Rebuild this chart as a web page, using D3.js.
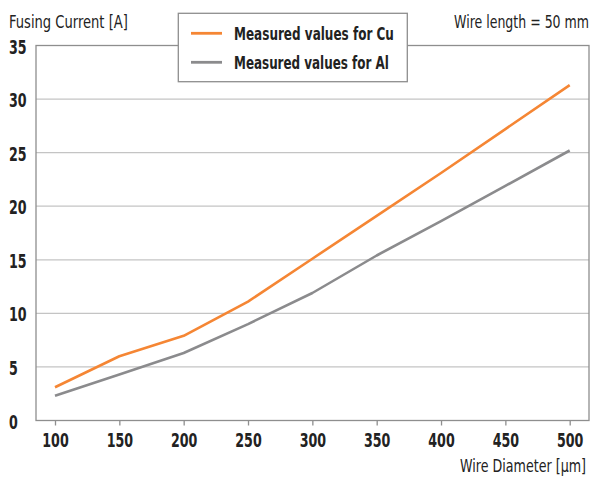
<!DOCTYPE html>
<html><head><meta charset="utf-8">
<script src="https://cdn.jsdelivr.net/npm/d3@7/dist/d3.min.js"></script>
<style>
body{margin:0;background:#fff;}
svg text{font-family:"DejaVu Sans Condensed","Liberation Sans Narrow",sans-serif;fill:#222;}
</style></head>
<body><svg id="c" width="595" height="480"></svg>
<script>
const diameters = [100, 150, 200, 250, 300, 350, 400, 450, 500];
const cuValues = [3.1, 6.0, 7.9, 11.1, 15.1, 19.1, 23.1, 27.2, 31.3];
const alValues = [2.3, 4.3, 6.3, 9.0, 11.9, 15.4, 18.6, 21.9, 25.2];
const yTicks = [0, 5, 10, 15, 20, 25, 30, 35];
const seriesNames = ["Measured values for Cu", "Measured values for Al"];
const colors = ["#f58634", "#8b8b8d"];

const svg = d3.select("#c");
const pL = 36, pR = 589, pT = 45.5, pB = 420.5;
const x = d3.scaleLinear().domain([100, 500]).range([55, 569.7]);
const y = d3.scaleLinear().domain([0, 35]).range([pB, pT]);

function condense(sel, f) {
  sel.each(function () {
    const w = this.getComputedTextLength();
    d3.select(this).attr("textLength", w * f).attr("lengthAdjust", "spacingAndGlyphs");
  });
}

// gridlines
svg.append("g").selectAll("line").data(yTicks.filter(d => d > 0 && d < 35)).join("line")
  .attr("x1", pL).attr("x2", pR).attr("y1", d => y(d)).attr("y2", d => y(d))
  .attr("stroke", "#c4c4c4").attr("stroke-width", 1.3);

// frame
svg.append("rect").attr("x", pL).attr("y", pT).attr("width", pR - pL).attr("height", pB - pT)
  .attr("fill", "none").attr("stroke", "#8e8e8e").attr("stroke-width", 1.3);

// x axis
const xAxis = d3.axisBottom(x).tickValues(diameters).tickSize(5).tickPadding(9).tickFormat(d3.format("d"));
const gx = svg.append("g").attr("transform", `translate(0,${pB})`).call(xAxis);
gx.select(".domain").remove();
gx.selectAll(".tick line").attr("stroke", "#8e8e8e").attr("stroke-width", 1.3);
gx.selectAll(".tick text").attr("font-size", 19).attr("font-weight", "bold").attr("fill", "#222")
  .attr("font-family", "DejaVu Sans Condensed, sans-serif").attr("dy", "0.68em");
condense(gx.selectAll(".tick text"), 0.74);

// y axis labels (left aligned)
const yAxis = d3.axisLeft(y).tickValues(yTicks).tickSize(0).tickPadding(0);
const gy = svg.append("g").attr("transform", `translate(${pL},0)`).call(yAxis);
gy.select(".domain").remove();
gy.selectAll(".tick text").attr("x", 9 - pL).attr("text-anchor", "start").attr("dy", "0.4em")
  .attr("font-size", 19).attr("font-weight", "bold").attr("fill", "#222")
  .attr("font-family", "DejaVu Sans Condensed, sans-serif");
condense(gy.selectAll(".tick text"), 0.74);

// lines
const line = d3.line().x((d, i) => x(diameters[i])).y(d => y(d));
[cuValues, alValues].forEach((vals, k) => {
  svg.append("path").datum(vals).attr("d", line).attr("fill", "none")
    .attr("stroke", colors[k]).attr("stroke-width", 2.6).attr("stroke-linejoin", "round");
});

// titles (horizontally compressed via transform)
function label(xp, yp, txt, w, anchor, bold, size, parent) {
  const t = (parent || svg).append("text").attr("x", 0).attr("y", 0).attr("font-size", size)
    .attr("font-weight", bold ? "bold" : "normal").attr("text-anchor", anchor).text(txt);
  const nat = t.node().getComputedTextLength();
  t.attr("transform", `translate(${xp},${yp}) scale(${w / nat},1)`);
  return t;
}
label(9, 27.5, "Fusing Current [A]", 119, "start", false, 17.5);
label(589, 27.5, "Wire length = 50 mm", 135, "end", false, 17.5);
label(586, 472, "Wire Diameter [µm]", 126, "end", false, 17.5);

// legend
const lg = svg.append("g");
lg.append("rect").attr("x", 178.3).attr("y", 13.3).attr("width", 229).attr("height", 68.4)
  .attr("fill", "#fff").attr("stroke", "#8e8e8e").attr("stroke-width", 1.3);
const legW = [160, 155];
seriesNames.forEach((n, i) => {
  const yy = 33.3 + i * 29;
  lg.append("line").attr("x1", 191).attr("x2", 222).attr("y1", yy).attr("y2", yy)
    .attr("stroke", colors[i]).attr("stroke-width", 2.8);
  label(234, yy + 6.5, n, legW[i], "start", true, 18, lg);
});
</script></body></html>
